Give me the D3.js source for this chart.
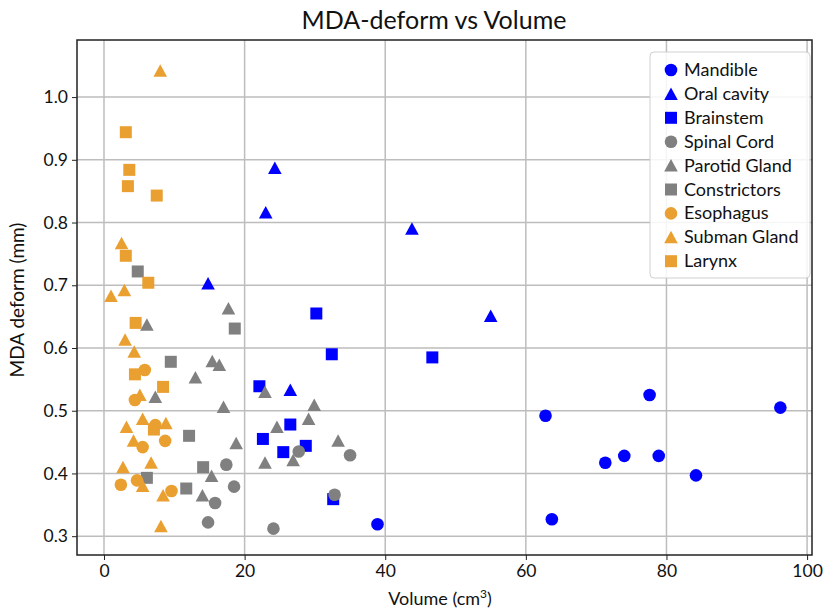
<!DOCTYPE html>
<html>
<head>
<meta charset="utf-8">
<script src="https://cdn.jsdelivr.net/npm/d3@7"></script>
<style>
  body { margin: 0; background: #fff; }
  svg text { font-family: Lato, "Open Sans", sans-serif; fill: #111; }
</style>
</head>
<body>
<div id="chart"></div>
<script>
// data: [volume, MDA deform]
const mandible = [[38.9,0.319],[62.8,0.492],[63.7,0.327],[71.3,0.417],[74.0,0.428],[77.6,0.525],[78.9,0.428],[84.2,0.397],[96.2,0.505]];
const oralCavity = [[14.8,0.703],[23.0,0.816],[24.3,0.887],[26.5,0.533],[43.8,0.79],[55.0,0.651]];
const brainstem = [[22.1,0.539],[22.6,0.455],[25.5,0.434],[26.5,0.478],[28.7,0.444],[30.2,0.655],[32.4,0.590],[32.6,0.359],[46.7,0.585]];
const spinalCord = [[14.8,0.322],[15.8,0.353],[17.4,0.414],[18.5,0.379],[24.1,0.312],[27.7,0.435],[32.8,0.366],[35.0,0.429]];
const parotid = [[6.1,0.637],[7.3,0.522],[13.0,0.553],[14.0,0.365],[15.3,0.396],[15.4,0.579],[16.4,0.573],[17.0,0.506],[17.7,0.663],[18.8,0.448],[22.9,0.530],[22.9,0.417],[24.6,0.474],[26.9,0.421],[29.1,0.487],[29.9,0.509],[33.3,0.452]];
const constrictors = [[4.8,0.722],[6.1,0.393],[9.5,0.578],[11.7,0.376],[12.1,0.460],[14.1,0.410],[18.6,0.631]];
const esophagus = [[2.4,0.382],[4.4,0.517],[4.7,0.389],[5.5,0.442],[5.8,0.565],[7.3,0.477],[8.7,0.452],[9.6,0.372]];
const submanGland = [[1.0,0.683],[2.5,0.767],[2.9,0.692],[3.0,0.613],[4.3,0.594],[5.1,0.525],[5.5,0.487],[3.2,0.474],[8.8,0.480],[4.2,0.452],[2.7,0.410],[6.7,0.417],[5.5,0.380],[8.4,0.365],[8.1,0.316],[8.0,1.042]];
const larynx = [[3.1,0.944],[3.6,0.884],[3.4,0.858],[7.5,0.843],[3.1,0.747],[6.3,0.704],[4.5,0.640],[4.4,0.558],[8.4,0.538],[7.1,0.470]];

const xTicks = [0, 20, 40, 60, 80, 100];
const yTicks = [0.3, 0.4, 0.5, 0.6, 0.7, 0.8, 0.9, 1.0];

const blue = "#0000ff", gray = "#808080", orange = "#e9a030";
const series = [
  {name: "Mandible", data: mandible, color: blue, shape: "circle"},
  {name: "Oral cavity", data: oralCavity, color: blue, shape: "triangle"},
  {name: "Brainstem", data: brainstem, color: blue, shape: "square"},
  {name: "Spinal Cord", data: spinalCord, color: gray, shape: "circle"},
  {name: "Parotid Gland", data: parotid, color: gray, shape: "triangle"},
  {name: "Constrictors", data: constrictors, color: gray, shape: "square"},
  {name: "Esophagus", data: esophagus, color: orange, shape: "circle"},
  {name: "Subman Gland", data: submanGland, color: orange, shape: "triangle"},
  {name: "Larynx", data: larynx, color: orange, shape: "square"}
];

const W = 826, H = 610;
const margin = {top: 40, right: 14, bottom: 55, left: 77};
const width = W - margin.left - margin.right;
const height = H - margin.top - margin.bottom;

const svg = d3.select("#chart").append("svg")
  .attr("width", W).attr("height", H);
const g = svg.append("g")
  .attr("transform", "translate(" + margin.left + "," + margin.top + ")");

const x = d3.scaleLinear().domain([-3.84, 100.7]).range([0, width]);
const y = d3.scaleLinear().domain([0.27, 1.091]).range([height, 0]);

// grid
g.append("g").selectAll("line").data(xTicks).enter().append("line")
  .attr("x1", d => x(d)).attr("x2", d => x(d))
  .attr("y1", 0).attr("y2", height)
  .attr("stroke", "#bdbdbd").attr("stroke-width", 1.5);
g.append("g").selectAll("line").data(yTicks).enter().append("line")
  .attr("y1", d => y(d)).attr("y2", d => y(d))
  .attr("x1", 0).attr("x2", width)
  .attr("stroke", "#bdbdbd").attr("stroke-width", 1.5);

// axes
const xAxis = g.append("g")
  .attr("transform", "translate(0," + height + ")")
  .call(d3.axisBottom(x).tickValues(xTicks).tickFormat(d3.format("d")).tickSize(5).tickPadding(5));
const yAxis = g.append("g")
  .call(d3.axisLeft(y).tickValues(yTicks).tickFormat(d3.format(".1f")).tickSize(5).tickPadding(4));
[xAxis, yAxis].forEach(a => {
  a.select(".domain").remove();
  a.selectAll("line").attr("stroke", "#222");
  a.selectAll("text").style("font-size", "17.5px").attr("fill", "#111");
});

// frame
g.append("rect").attr("width", width).attr("height", height)
  .attr("fill", "none").attr("stroke", "#222").attr("stroke-width", 1.5);

function shapePath(shape) {
  if (shape === "circle") return "M6.3,0A6.3,6.3 0 1,1 -6.3,0A6.3,6.3 0 1,1 6.3,0Z";
  if (shape === "square") return "M-6,-6H6V6H-6Z";
  return "M0,-6.5L6.8,6L-6.8,6Z";
}

// points
series.forEach(s => {
  g.append("g").selectAll("path").data(s.data).enter().append("path")
    .attr("d", shapePath(s.shape))
    .attr("transform", d => "translate(" + x(d[0]) + "," + y(d[1]) + ")")
    .attr("fill", s.color);
});

// legend
const lg = svg.append("g").attr("transform", "translate(650,52)");
lg.append("rect").attr("width", 160).attr("height", 226).attr("rx", 4)
  .attr("fill", "#fff").attr("fill-opacity", 0.85)
  .attr("stroke", "#d0d0d0");
series.forEach((s, i) => {
  const row = lg.append("g").attr("transform", "translate(21," + (18 + i * 23.9) + ")");
  row.append("path").attr("d", shapePath(s.shape)).attr("fill", s.color);
  row.append("text").attr("x", 13).attr("y", 6).style("font-size", "18px").text(s.name);
});

// title and labels
svg.append("text").attr("x", 434).attr("y", 29).attr("text-anchor", "middle")
  .style("font-size", "25px").text("MDA-deform vs Volume");
const xl = svg.append("text").attr("x", 440).attr("y", 605).attr("text-anchor", "middle")
  .style("font-size", "18px");
xl.append("tspan").text("Volume (cm");
xl.append("tspan").attr("dy", -7).style("font-size", "12px").text("3");
xl.append("tspan").attr("dy", 7).text(")");
svg.append("text").attr("transform", "translate(24,300) rotate(-90)")
  .attr("text-anchor", "middle").style("font-size", "19px").text("MDA deform (mm)");
</script>
</body>
</html>
